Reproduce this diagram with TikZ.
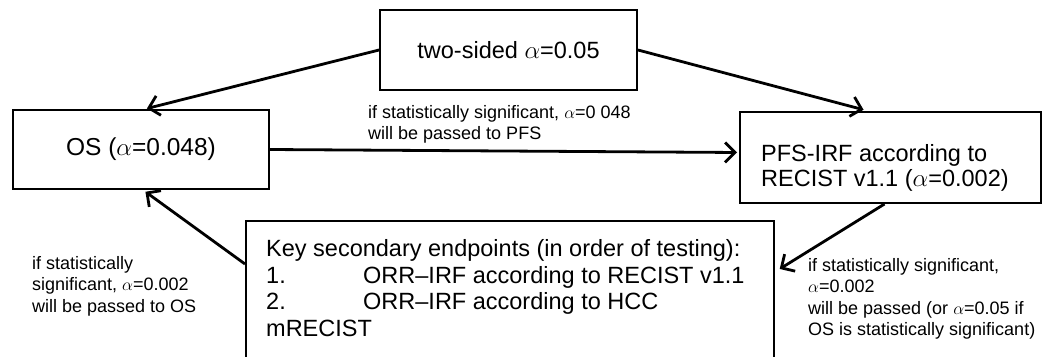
\documentclass[tikz,border=0pt]{standalone}
\usepackage{fontspec}
\setmainfont{Liberation Sans}
\usetikzlibrary{arrows.meta}
\begin{document}
\begin{tikzpicture}[x=1pt,y=-1pt,
  box/.style={draw, line width=2pt, inner sep=0pt},
  bigtext/.style={font=\fontsize{23.5}{25}\selectfont},
  conn/.style={line width=2.8pt, -{Straight Barb[length=10pt,width=20pt,line width=2.8pt]}},
  lab/.style={font=\fontsize{18}{21.5}\selectfont, align=left, inner sep=0pt, anchor=north west}]
\useasboundingbox (0,0) rectangle (1048,356);
\clip (0,0) rectangle (1048,356);
\fill[white] (0,0) rectangle (1048,356);

\node[box, bigtext, minimum width=257pt, minimum height=80pt] (top) at (508.5,50) {two-sided $\alpha$=0.05};
\node[box, font=\fontsize{24.5}{26}\selectfont, minimum width=256pt, minimum height=79pt] (os) at (141,149.5) {OS ($\alpha$=0.048)};
\node[box, minimum width=301pt, minimum height=91pt] (pfs) at (890.5,157.5) {};
\node[bigtext, align=left, inner sep=0pt, anchor=west] (pfstext) at (761,167.5) {PFS-IRF according to\\RECIST v1.1 ($\alpha$=0.002)};
\node[box, minimum width=528pt, minimum height=140pt] (key) at (510,291) {};
\node[font=\fontsize{23.5}{26.5}\selectfont, align=left, inner sep=0pt, anchor=north west] (keytext) at (266,239.5)
  {Key secondary endpoints (in order of testing):\\
   \makebox[97pt][l]{1.}ORR--IRF according to RECIST v1.1\\
   \makebox[97pt][l]{2.}ORR--IRF according to HCC\\
   mRECIST};

\node[lab] (l1) at (368,105) {if statistically significant, $\alpha$=0 048\\will be passed to PFS};
\node[lab] (l2) at (32,256) {if statistically\\significant, $\alpha$=0.002\\will be passed to OS};
\node[lab] (l3) at (808,258) {if statistically significant,\\$\alpha$=0.002\\will be passed (or $\alpha$=0.05 if\\OS is statistically significant)};

\draw[conn, shorten >=2pt] (top.west) -- ([xshift=4pt]os.north);
\draw[conn, shorten >=1pt] (top.east) -- ([xshift=-26pt,yshift=1pt]pfs.north);
\draw[conn, shorten >=2pt] (os.east) -- ([yshift=5pt]pfs.west);
\draw[conn, shorten >=2pt] ([xshift=-6pt]pfs.south) -- ([xshift=3pt,yshift=21pt]key.east);
\draw[conn, shorten >=3pt] ([yshift=27pt]key.west) -- ([xshift=2pt]os.south);
\end{tikzpicture}
\end{document}
